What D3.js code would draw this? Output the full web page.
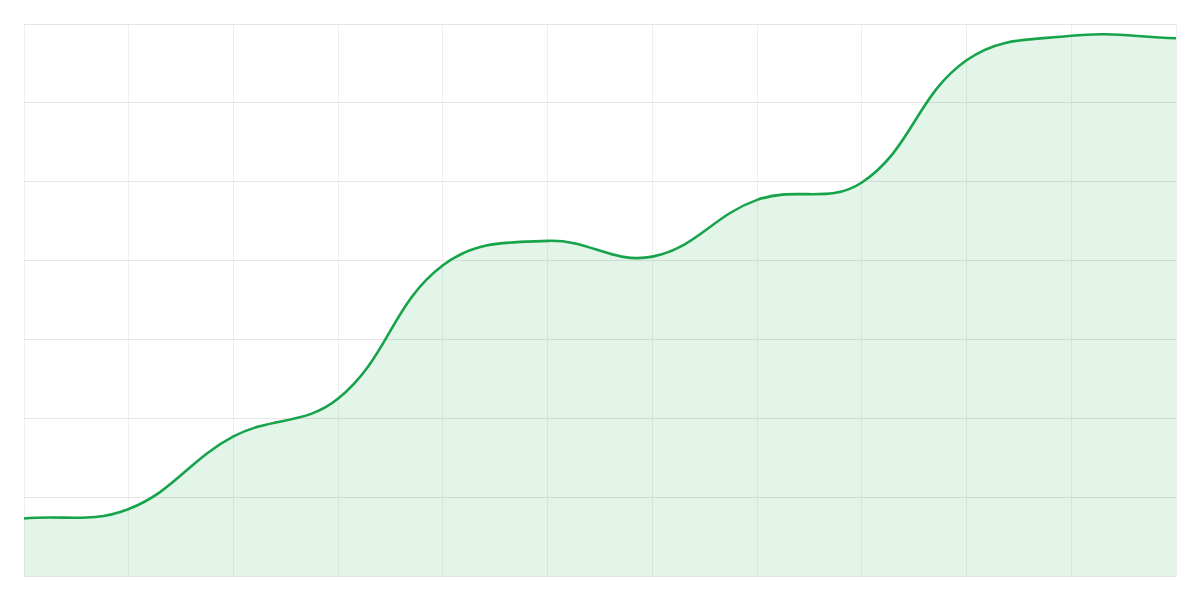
<!DOCTYPE html>
<html><head><meta charset="utf-8">
<script src="https://cdn.jsdelivr.net/npm/d3@7"></script>
<style>html,body{margin:0;padding:0;background:#fff;}svg{display:block;}</style>
</head><body>
<svg id="chart" width="1200" height="600"></svg>
<script>
const categories = [0,1,2,3,4,5,6,7,8,9,10,11];
const values = [0.73, 0.85, 1.77, 2.25, 3.94, 4.25, 4.05, 4.77, 4.99, 6.54, 6.85, 6.82];
const yTicks = [0,1,2,3,4,5,6,7];

const W = 1200, H = 600, m = {top:24, right:24, bottom:24, left:24};
const svg = d3.select('#chart');
const x = d3.scaleLinear().domain([0, 11]).range([m.left, W - m.right]);
const y = d3.scaleLinear().domain([0, 7]).range([H - m.bottom, m.top]);

// Tension spline (distance-weighted cardinal) as a d3 curve factory
function curveTension(t) {
  return function(context) {
    let pts = [];
    return {
      lineStart() { pts = []; },
      point(px, py) { pts.push([+px, +py]); },
      lineEnd() {
        const n = pts.length;
        if (!n) return;
        const cp = pts.map((p, i) => {
          const a = pts[Math.max(0, i - 1)], b = p, c = pts[Math.min(n - 1, i + 1)];
          const d01 = Math.hypot(b[0]-a[0], b[1]-a[1]);
          const d12 = Math.hypot(c[0]-b[0], c[1]-b[1]);
          let s01 = d01 / (d01 + d12), s12 = d12 / (d01 + d12);
          if (!isFinite(s01)) s01 = 0; if (!isFinite(s12)) s12 = 0;
          const fa = t * s01, fb = t * s12;
          return {
            prev: [b[0] - fa * (c[0] - a[0]), b[1] - fa * (c[1] - a[1])],
            next: [b[0] + fb * (c[0] - a[0]), b[1] + fb * (c[1] - a[1])]
          };
        });
        context.moveTo(pts[0][0], pts[0][1]);
        for (let i = 1; i < n; i++) {
          context.bezierCurveTo(cp[i-1].next[0], cp[i-1].next[1], cp[i].prev[0], cp[i].prev[1], pts[i][0], pts[i][1]);
        }
      },
      areaStart() {}, areaEnd() {}
    };
  };
}

const g = svg.append('g');
g.selectAll('line.v').data(categories).join('line')
  .attr('x1', d => x(d)).attr('x2', d => x(d))
  .attr('y1', y(7)).attr('y2', y(0))
  .attr('stroke', '#eeeeee').attr('stroke-width', 1).attr('shape-rendering','crispEdges');
g.selectAll('line.h').data(yTicks).join('line')
  .attr('x1', x(0)).attr('x2', x(11))
  .attr('y1', d => y(d)).attr('y2', d => y(d))
  .attr('stroke', '#e5e5e5').attr('stroke-width', 1).attr('shape-rendering','crispEdges');

const curve = curveTension(0.4);
const line = d3.line().x((d,i) => x(categories[i])).y(d => y(d)).curve(curve);
const linePath = line(values);
const areaPath = linePath + 'L' + x(categories[categories.length-1]) + ',' + y(0) + 'L' + x(categories[0]) + ',' + y(0) + 'Z';

svg.append('path').attr('d', areaPath).attr('fill', 'rgba(22,163,74,0.12)');
svg.append('path').attr('d', linePath).attr('fill', 'none')
  .attr('stroke', '#16a34a').attr('stroke-width', 2.6).attr('stroke-linejoin','round');
</script>
</body></html>
